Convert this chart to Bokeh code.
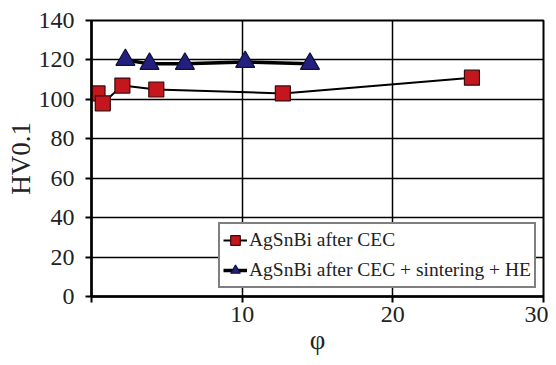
from bokeh.plotting import figure
from bokeh.embed import file_html
from bokeh.resources import INLINE
from bokeh.models import Range1d, FixedTicker, Legend, LegendItem

# Data
cec_x = [0.4, 0.75, 2.05, 4.3, 12.7, 25.25]
cec_y = [103, 98, 107, 105, 103, 111]
he_x = [2.25, 3.85, 6.2, 10.2, 14.5]
he_y = [120, 118, 118, 119, 118]
label_cec = "AgSnBi after CEC"
label_he = "AgSnBi after CEC + sintering + HE"
x_ticks = [0, 10, 20, 30]
y_ticks = [0, 20, 40, 60, 80, 100, 120, 140]

FONT = "Liberation Serif"

p = figure(width=548, height=357, output_backend="svg", toolbar_location=None,
           x_range=Range1d(0, 30), y_range=Range1d(0, 140),
           min_border_left=91, min_border_right=5, min_border_top=20, min_border_bottom=59)

p.outline_line_color = "black"
p.outline_line_width = 2

for g in (p.xgrid, p.ygrid):
    g.grid_line_color = "black"
    g.grid_line_width = 1.5
p.xaxis.ticker = FixedTicker(ticks=x_ticks)
p.yaxis.ticker = FixedTicker(ticks=y_ticks)
p.xgrid.ticker = FixedTicker(ticks=x_ticks)
p.ygrid.ticker = FixedTicker(ticks=y_ticks)
p.xaxis.major_label_overrides = {0: ""}

for ax in (p.xaxis, p.yaxis):
    ax.axis_line_color = "black"
    ax.axis_line_width = 2.5
    ax.major_tick_line_color = "black"
    ax.major_tick_line_width = 2
    ax.major_tick_out = 6
    ax.major_tick_in = 0
    ax.minor_tick_line_color = None
    ax.major_label_text_font = FONT
    ax.major_label_text_font_size = "24px"
    ax.major_label_text_color = "#222222"
    ax.axis_label_text_font = FONT
    ax.axis_label_text_font_size = "27px"
    ax.axis_label_text_font_style = "normal"
    ax.axis_label_text_color = "#222222"

p.xaxis.axis_label = "φ"
p.yaxis.axis_label = "HV0.1"
p.xaxis.major_label_standoff = 4
p.yaxis.major_label_standoff = 11
p.xaxis.axis_label_standoff = 0
p.yaxis.axis_label_standoff = 0

l1 = p.line(cec_x, cec_y, line_color="black", line_width=2)
s1 = p.scatter(cec_x, cec_y, marker="square", size=15, fill_color="#C4161C",
               line_color="#3a0a0a", line_width=1.2)
l2 = p.line(he_x, he_y, line_color="black", line_width=3.5)
s2 = p.scatter(he_x, he_y, marker="triangle", size=19, fill_color="#231F7E",
               line_color="#10103a", line_width=1.2)

legend = Legend(items=[LegendItem(label=label_cec, renderers=[l1, s1]),
                       LegendItem(label=label_he, renderers=[l2, s2])],
                location=(127, 8))
legend.border_line_color = "black"
legend.border_line_width = 2
legend.background_fill_color = "white"
legend.background_fill_alpha = 1
legend.label_text_font = FONT
legend.label_text_font_size = "19.5px"
legend.label_text_color = "#222222"
legend.glyph_width = 24
legend.glyph_height = 26
legend.label_height = 26
legend.label_standoff = 2
legend.padding = 3
legend.spacing = 4
legend.margin = 0
p.add_layout(legend, "center")

open("out.html", "w").write(file_html(p, INLINE))
